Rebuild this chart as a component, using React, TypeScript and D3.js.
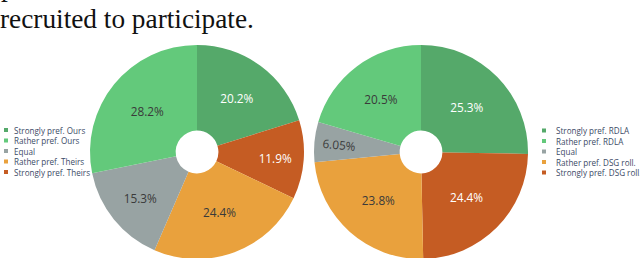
import * as d3 from 'd3';

const categoriesLeft = ['Strongly pref. Ours', 'Rather pref. Ours', 'Equal', 'Rather pref. Theirs', 'Strongly pref. Theirs'];
const categoriesRight = ['Strongly pref. RDLA', 'Rather pref. RDLA', 'Equal', 'Rather pref. DSG roll.', 'Strongly pref. DSG roll.'];
const valuesLeft = [20.2, 28.2, 15.3, 24.4, 11.9];
const valuesRight = [25.3, 20.5, 6.05, 23.8, 24.4];
// slice order going clockwise from 12 o'clock (indices into the arrays above)
const clockwiseOrder = [0, 4, 3, 2, 1];
const colors = ['#55a96a', '#63c97b', '#98a3a3', '#e9a13d', '#c55c23'];

const W = 640;
const H = 258;
const R = 107;
const HOLE = 0.2;
const LABEL_FONT = 11.8;
const LEGEND_FONT = 8.1;
const FONT = '"Open Sans", Verdana, sans-serif';

const fmt = d3.format('.3r');

let ctx: CanvasRenderingContext2D | null = null;
function measure(t: string, size: number) {
  if (!ctx) ctx = document.createElement('canvas').getContext('2d');
  if (!ctx) return t.length * size * 0.55;
  ctx.font = `${size}px ${FONT}`;
  return ctx.measureText(t).width;
}

// plotly-like inside label placement
function placeLabel(d: d3.PieArcDatum<any>, w: number, h: number) {
  const ring = 1 - HOLE;
  const half = (d.endAngle - d.startAngle) / 2;
  const mid = (d.startAngle + d.endAngle) / 2;
  const rIns = Math.min(1 / (1 + 1 / Math.sin(half)), ring / 2);
  const hScale = (rIns * R * 2) / Math.hypot(w, h);
  let best = { scale: hScale, rc: 1 - rIns, rot: 0 };
  if (hScale < 1) {
    const rr = Math.max(0, R - 6);
    const maxHalf = (a: number) => {
      const q = a + 1 / (2 * Math.tan(half));
      return rr * Math.min(1 / (Math.sqrt(q * q + 0.5) + q), ring / (Math.sqrt(a * a + ring / 2) + a));
    };
    const norm = (deg: number) => {
      let x = ((deg % 360) + 360) % 360;
      if (x > 180) x -= 360;
      if (x > 90) x -= 180;
      if (x < -90) x += 180;
      return x;
    };
    const radDeg = (Math.atan2(-Math.cos(mid), Math.sin(mid)) * 180) / Math.PI;
    const aR = w / h;
    const sR = maxHalf(aR);
    const rad = { scale: (sR * 2) / h, rc: Math.cos(sR / rr) - aR * (sR / rr), rot: norm(radDeg) };
    const aT = h / w;
    const sT = maxHalf(aT);
    const tan = { scale: (sT * 2) / w, rc: Math.cos(sT / rr) - aT * (sT / rr), rot: norm(radDeg + 90) };
    if (rad.scale > best.scale) best = rad;
    if (tan.scale > best.scale) best = tan;
  }
  return {
    x: Math.sin(mid) * R * best.rc,
    y: -Math.cos(mid) * R * best.rc,
    rot: best.rot,
    scale: Math.min(1, best.scale),
  };
}

function textColor(c: string) {
  const rgb = d3.rgb(c);
  const lum = 0.299 * rgb.r + 0.587 * rgb.g + 0.114 * rgb.b;
  return lum < 150 ? '#ffffff' : '#3a3a3a';
}

function Donut({ cx, cy, values }: { cx: number; cy: number; values: number[] }) {
  const total = d3.sum(values);
  const ordered = clockwiseOrder.map((i) => ({ i, v: values[i] }));
  const pie = d3
    .pie<{ i: number; v: number }>()
    .sort(null)
    .value((d) => d.v)
    .startAngle(0)
    .endAngle(2 * Math.PI);
  const arc = d3
    .arc<d3.PieArcDatum<{ i: number; v: number }>>()
    .innerRadius(R * HOLE)
    .outerRadius(R);
  const arcs = pie(ordered);
  return (
    <g transform={`translate(${cx},${cy})`}>
      {arcs.map((a) => (
        <path key={a.data.i} d={arc(a) || ''} fill={colors[a.data.i]} />
      ))}
      {arcs.map((a) => {
        const label = fmt((a.data.v / total) * 100) + '%';
        const w = measure(label, LABEL_FONT);
        const h = LABEL_FONT * 1.3;
        const p = placeLabel(a, w, h);
        return (
          <text
            key={'t' + a.data.i}
            transform={`translate(${p.x},${p.y}) rotate(${p.rot}) scale(${p.scale})`}
            textAnchor="middle"
            dominantBaseline="central"
            fontFamily={FONT}
            fontSize={LABEL_FONT}
            fill={textColor(colors[a.data.i])}
          >
            {label}
          </text>
        );
      })}
    </g>
  );
}

function Legend({ x, y, textX, labels }: { x: number; y: number; textX: number; labels: string[] }) {
  const rowY = d3.scalePoint<number>().domain(d3.range(labels.length)).range([0, 10.5 * (labels.length - 1)]);
  return (
    <g transform={`translate(${x},${y})`}>
      {labels.map((l, i) => (
        <g key={l} transform={`translate(0,${rowY(i)})`}>
          <rect x={0} y={-2} width={4} height={4} fill={colors[i]} />
          <text x={textX} y={0} dominantBaseline="central" fontFamily={FONT} fontSize={LEGEND_FONT} fill="#3b4a66">
            {l}
          </text>
        </g>
      ))}
    </g>
  );
}

export default function App() {
  return (
    <svg
      width={W}
      height={H}
      viewBox={`0 0 ${W} ${H}`}
      style={{ position: 'absolute', left: 0, top: 0, background: '#fff' }}
    >
      <text x={1} y={-4} fontFamily='"Liberation Serif", "Times New Roman", serif' fontSize={27.3} fill="#111">
        p
      </text>
      <text x={0} y={28} fontFamily='"Liberation Serif", "Times New Roman", serif' fontSize={27.3} fill="#111">
        recruited to participate.
      </text>
      <Donut cx={197} cy={152} values={valuesLeft} />
      <Donut cx={421} cy={152} values={valuesRight} />
      <Legend x={4} y={130} textX={10} labels={categoriesLeft} />
      <Legend x={542} y={130.5} textX={14} labels={categoriesRight} />
    </svg>
  );
}
